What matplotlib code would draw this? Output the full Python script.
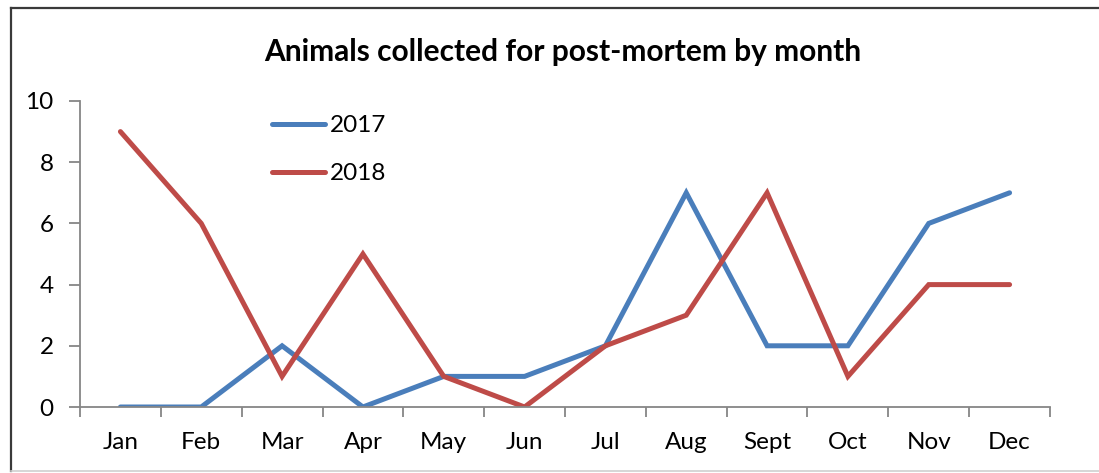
import matplotlib
matplotlib.use("Agg")
import matplotlib.pyplot as plt
from matplotlib.lines import Line2D

months = ["Jan", "Feb", "Mar", "Apr", "May", "Jun", "Jul", "Aug", "Sept", "Oct", "Nov", "Dec"]
y2017 = [0, 0, 2, 0, 1, 1, 2, 7, 2, 2, 6, 7]
y2018 = [9, 6, 1, 5, 1, 0, 2, 3, 7, 1, 4, 4]
title = "Animals collected for post-mortem by month"

plt.rcParams['font.family'] = ['Lato', 'DejaVu Sans']

W, H = 1099, 473
fig = plt.figure(figsize=(W / 100, H / 100), dpi=100)
ax = fig.add_axes([80 / W, (H - 407) / H, (1050 - 80) / W, (407 - 101) / H])

x = list(range(len(months)))
ax.plot(x, y2017, color="#4A7EBB", lw=3.6, label="2017", solid_capstyle="round", solid_joinstyle="miter")
ax.plot(x, y2018, color="#BE4B48", lw=3.6, label="2018", solid_capstyle="round", solid_joinstyle="miter")

ax.set_xlim(-0.5, len(months) - 0.5)
ax.set_ylim(0, 10)
ax.set_yticks([0, 2, 4, 6, 8, 10])
ax.set_xticks(x)
ax.set_xticklabels(months)
ax.set_xticks([i - 0.5 for i in range(len(months) + 1)], minor=True)
ax.tick_params(axis="x", which="major", length=0, pad=18, labelsize=17.5)
ax.tick_params(axis="x", which="minor", length=7, width=1.3, color="#868686")
ax.tick_params(axis="y", length=8, width=1.3, color="#868686", labelsize=17.5, pad=11)

for s in ["top", "right"]:
    ax.spines[s].set_visible(False)
for s in ["left", "bottom"]:
    ax.spines[s].set_color("#868686")
    ax.spines[s].set_linewidth(1.3)

leg = ax.legend(loc="upper left", bbox_to_anchor=(272 / W, (H - 115) / H),
                bbox_transform=fig.transFigure, frameon=False, fontsize=17.5,
                handlelength=2.2, handletextpad=0.2, labelspacing=1.12, borderpad=0,
                borderaxespad=0)

fig.text(563 / W, (H - 52) / H, title, ha="center", va="center",
         fontsize=21.5, fontweight="bold")

# outer chart border
fig.add_artist(Line2D([11 / W, 11 / W], [(H - 8) / H, (H - 471) / H], transform=fig.transFigure,
                      color="#3a3a3a", lw=1.6))
fig.add_artist(Line2D([11 / W, 1], [(H - 8) / H, (H - 8) / H], transform=fig.transFigure,
                      color="#3a3a3a", lw=1.6))
fig.add_artist(Line2D([11 / W, 1], [(H - 471) / H, (H - 471) / H], transform=fig.transFigure,
                      color="#d0d0d0", lw=1.2))

fig.savefig("out.png", dpi=100)
